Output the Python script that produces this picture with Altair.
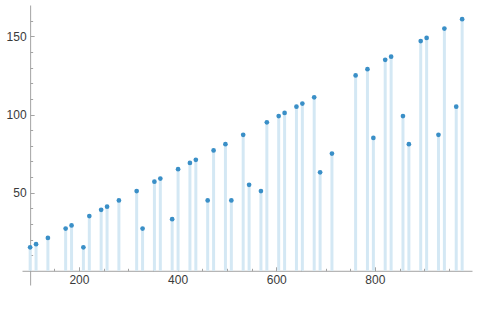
import altair as alt
import pandas as pd

n_values = [101, 113, 137, 173, 185, 209, 221, 245, 257, 281, 317, 329, 353, 365,
            389, 401, 425, 437, 461, 473, 497, 509, 533, 545, 569, 581, 605, 617,
            641, 653, 677, 689, 713, 761, 785, 797, 821, 833, 857, 869, 893, 905,
            929, 941, 965, 977]
counts = [15, 17, 21, 27, 29, 15, 35, 39, 41, 45, 51, 27, 57, 59, 33, 65, 69, 71,
          45, 77, 81, 45, 87, 55, 51, 95, 99, 101, 105, 107, 111, 63, 75, 125, 129,
          85, 135, 137, 99, 81, 147, 149, 87, 155, 105, 161]

x_major = [200, 400, 600, 800]
x_minor = [150, 250, 300, 350, 450, 500, 550, 650, 700, 750, 850, 900, 950]
y_major = [50, 100, 150]
y_minor = [10, 20, 30, 40, 60, 70, 80, 90, 110, 120, 130, 140, 160]

df = pd.DataFrame({"n": n_values, "c": counts})

W, H = 450, 280
x_dom = [84.5, 997.0]
y_dom = [-9.1, 170.1]
xs = alt.Scale(domain=x_dom, nice=False, zero=False)
ys = alt.Scale(domain=y_dom, nice=False, zero=False)

yaxis_off = (101 - x_dom[0]) / (x_dom[1] - x_dom[0]) * W
xaxis_off = (0 - y_dom[0]) / (y_dom[1] - y_dom[0]) * H

FONT = "Liberation Sans"
AX = "#a3a3a3"
LBL = "#3a3a3a"

base = alt.Chart(df)

stems = base.mark_rule(strokeWidth=3, color="#d4e8f4").encode(
    x=alt.X("n:Q", scale=xs, axis=alt.Axis(
        orient="bottom", offset=-xaxis_off, values=x_major, ticks=False,
        domain=False, grid=False, labelPadding=4, labelFontSize=12,
        labelFont=FONT, labelColor=LBL, title=None)),
    y=alt.Y("c:Q", scale=ys, axis=alt.Axis(
        orient="left", offset=-yaxis_off, values=y_major, ticks=False,
        domain=False, grid=False, labelPadding=4, labelFontSize=12,
        labelFont=FONT, labelColor=LBL, title=None)),
    y2=alt.datum(0),
)

minor = base.mark_circle(size=22, opacity=0).encode(
    x=alt.X("n:Q", scale=xs, axis=alt.Axis(
        orient="top", offset=-(H - xaxis_off), values=x_minor, ticks=True,
        tickSize=2.5, tickColor=AX, domain=False, grid=False, labels=False,
        title=None)),
    y=alt.Y("c:Q", scale=ys, axis=alt.Axis(
        orient="right", offset=-(W - yaxis_off), values=y_minor, ticks=True,
        tickSize=2.5, tickColor=AX, domain=False, grid=False, labels=False,
        title=None)),
)

points = base.mark_circle(size=22, color="#3a8fc7", opacity=1).encode(
    x=alt.X("n:Q", scale=xs, axis=alt.Axis(
        orient="top", offset=-(H - xaxis_off), values=x_major, ticks=True,
        tickSize=4, tickColor=AX, domain=True, domainColor=AX, grid=False,
        labels=False, title=None)),
    y=alt.Y("c:Q", scale=ys, axis=alt.Axis(
        orient="right", offset=-(W - yaxis_off), values=y_major, ticks=True,
        tickSize=4, tickColor=AX, domain=True, domainColor=AX, grid=False,
        labels=False, title=None)),
)

chart = alt.layer(stems, minor, points).resolve_axis(
    x="independent", y="independent"
).properties(
    width=W, height=H,
    autosize=alt.AutoSizeParams(type="none"),
    padding={"left": 22, "top": 5, "right": 7, "bottom": 31},
    background="white",
).configure_view(stroke=None)

chart.save("out.html", embed_options={"renderer": "svg", "actions": False})
